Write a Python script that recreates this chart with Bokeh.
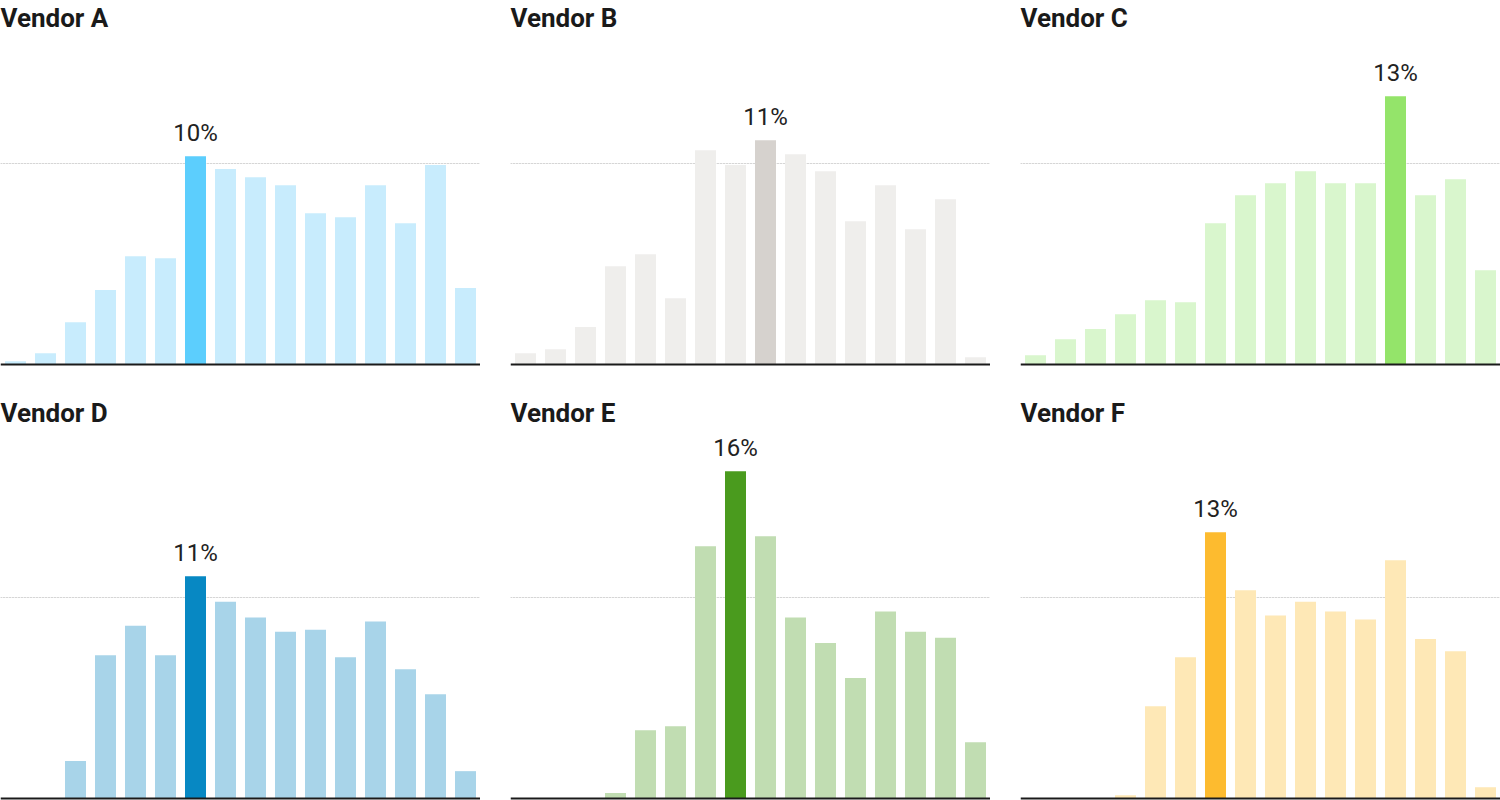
from bokeh.plotting import figure
from bokeh.layouts import row, column
from bokeh.models import Range1d, FactorRange, Span, ColumnDataSource
from bokeh.core.properties import value
from bokeh.embed import file_html
from bokeh.resources import INLINE

bins = [str(i) for i in range(1, 17)]

vendors = ["Vendor A", "Vendor B", "Vendor C", "Vendor D", "Vendor E", "Vendor F"]

vendor_a = [0.16, 0.56, 2.1, 3.7, 5.39, 5.29, 10.36, 9.72, 9.32, 8.92, 7.53, 7.33, 8.92, 7.03, 9.92, 3.8]
vendor_b = [0.56, 0.76, 1.86, 4.89, 5.49, 3.3, 10.66, 9.92, 11.16, 10.46, 9.62, 7.13, 8.92, 6.73, 8.22, 0.36]
vendor_c = [0.46, 1.26, 1.76, 2.5, 3.2, 3.1, 7.03, 8.42, 9.02, 9.62, 9.02, 9.02, 13.35, 8.42, 9.22, 4.69]
vendor_d = [0.0, 0.0, 1.86, 7.13, 8.6, 7.13, 11.06, 9.79, 9.0, 8.3, 8.4, 7.03, 8.8, 6.43, 5.19, 1.36]
vendor_e = [0.0, 0.0, 0.0, 0.27, 3.4, 3.6, 12.55, 16.28, 13.05, 9.0, 7.73, 5.99, 9.3, 8.3, 8.0, 2.8]
vendor_f = [0.0, 0.0, 0.0, 0.16, 4.59, 7.03, 13.25, 10.36, 9.1, 9.79, 9.3, 8.9, 11.85, 7.93, 7.33, 0.56]

light_colors = ["#c8ecfd", "#efeeec", "#d9f6cd", "#a8d4e9", "#c1ddb2", "#fee8b6"]
highlight_colors = ["#5ccefd", "#d6d2ce", "#94e46a", "#0788c3", "#4a9b1e", "#fdbb2f"]

grid_value = 10

series = [vendor_a, vendor_b, vendor_c, vendor_d, vendor_e, vendor_f]

PX_PER_UNIT = 20.1
FRAME_W = 480
TITLE_H = 32


def make_panel(name, vals, light, hi, frame_h):
    span_units = frame_h / PX_PER_UNIT
    y0 = -0.1
    p = figure(
        x_range=FactorRange(*bins, range_padding=0),
        y_range=Range1d(y0, y0 + span_units),
        frame_width=FRAME_W,
        frame_height=frame_h,
        output_backend="svg",
        toolbar_location=None,
        title=name,
        min_border_left=0,
        min_border_right=0,
        min_border_top=0,
        min_border_bottom=0,
    )
    p.x_range.factor_padding = 0
    p.title.text_font = "Roboto"
    p.title.text_font_size = "26px"
    p.title.text_font_style = "bold"
    p.title.text_color = "#1a1a1a"
    p.title.align = "left"
    p.title.offset = 0
    p.title.standoff = 0
    p.axis.visible = False
    p.grid.visible = False
    p.outline_line_color = None
    p.background_fill_color = "white"
    p.border_fill_color = "white"

    imax = max(range(len(vals)), key=lambda i: vals[i])
    colors = [hi if i == imax else light for i in range(len(vals))]
    src = ColumnDataSource(dict(x=bins, top=vals, color=colors))

    p.add_layout(Span(location=grid_value, dimension="width", line_color="#efefef",
                      line_width=1, level="underlay"))
    p.add_layout(Span(location=grid_value, dimension="width", line_color="#bdbdbd",
                      line_width=1, line_dash="1 2", level="underlay"))

    p.vbar(x="x", top="top", bottom=0, width=0.7, color="color", source=src, line_color=None)

    p.add_layout(Span(location=0, dimension="width", line_color="#1a1a1a",
                      line_width=2, level="overlay"))

    lab = ColumnDataSource(dict(x=[bins[imax]], y=[vals[imax]], t=[f"{round(vals[imax])}%"]))
    p.text(x="x", y="y", text="t", source=lab, text_align="center", text_baseline="bottom",
           y_offset=-9, text_font=value("Roboto"), text_font_size="24px", text_color="#222222")
    return p


panels = []
for k in range(6):
    fh = (366 - TITLE_H) if k < 3 else (405 - TITLE_H)
    panels.append(make_panel(vendors[k], series[k], light_colors[k], highlight_colors[k], fh))

layout = column(
    row(panels[0], panels[1], panels[2], spacing=30),
    row(panels[3], panels[4], panels[5], spacing=30),
    spacing=29,
)

open("out.html", "w").write(file_html(layout, INLINE))
